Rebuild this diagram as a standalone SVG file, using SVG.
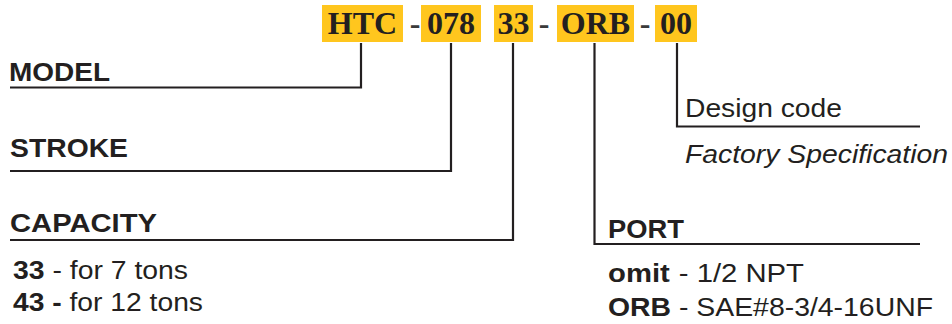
<svg xmlns="http://www.w3.org/2000/svg" width="952" height="324" viewBox="0 0 952 324">
<style>
.box{fill:#FFC61E}
.code{font-family:"Liberation Serif","Times New Roman",serif;font-weight:bold;font-size:32px;fill:#231F20}
.dash{font-family:"Liberation Serif","Times New Roman",serif;font-weight:bold;font-size:32px;fill:#3a3a3a}
.lbl{font-family:"Liberation Sans",Arial,sans-serif;font-weight:bold;font-size:26px;fill:#231F20}
.txt{font-family:"Liberation Sans",Arial,sans-serif;font-size:26px;fill:#231F20}
.b{font-weight:bold}
.ln{fill:none;stroke:#231F20;stroke-width:2.2}
</style>
<rect width="952" height="324" fill="#fff"/>
<g id="code">
<g id="code-htc"><rect class="box" x="322" y="5" width="81" height="37"/><text class="code" x="362.5" y="34" text-anchor="middle">HTC</text></g>
<text class="dash" x="415" y="34" text-anchor="middle">-</text>
<g id="code-078"><rect class="box" x="421" y="5" width="60" height="37"/><text class="code" x="451" y="34" text-anchor="middle">078</text></g>
<g id="code-33"><rect class="box" x="494" y="5" width="39" height="37"/><text class="code" x="513.5" y="34" text-anchor="middle">33</text></g>
<text class="dash" x="544" y="34" text-anchor="middle">-</text>
<g id="code-orb"><rect class="box" x="557" y="5" width="77" height="37"/><text class="code" x="595.5" y="34" text-anchor="middle">ORB</text></g>
<text class="dash" x="645" y="34" text-anchor="middle">-</text>
<g id="code-00"><rect class="box" x="655" y="5" width="42" height="37"/><text class="code" x="676" y="34" text-anchor="middle">00</text></g>
</g>
<g id="connectors">
<polyline class="ln" points="361,43 361,87.5 10,87.5"/>
<polyline class="ln" points="451,43 451,171 10,171"/>
<polyline class="ln" points="513,43 513,240 10,240"/>
<polyline class="ln" points="594.5,43 594.5,244 920,244"/>
<polyline class="ln" points="677,43 677,126.5 920,126.5"/>
</g>
<g id="model"><text class="lbl" x="9" y="81" textLength="101" lengthAdjust="spacingAndGlyphs">MODEL</text></g>
<g id="stroke"><text class="lbl" x="10" y="157" textLength="118" lengthAdjust="spacingAndGlyphs">STROKE</text></g>
<g id="capacity">
<text class="lbl" x="10" y="232" textLength="147" lengthAdjust="spacingAndGlyphs">CAPACITY</text>
<text class="txt" x="13" y="279" textLength="175" lengthAdjust="spacingAndGlyphs"><tspan class="b">33</tspan> - for 7 tons</text>
<text class="txt" x="13" y="311" textLength="190" lengthAdjust="spacingAndGlyphs"><tspan class="b">43 -</tspan> for 12 tons</text>
</g>
<g id="design">
<text class="txt" x="685" y="117" textLength="157" lengthAdjust="spacingAndGlyphs">Design code</text>
<text class="txt" x="685" y="163" font-style="italic" textLength="263" lengthAdjust="spacingAndGlyphs">Factory Specification</text>
</g>
<g id="port">
<text class="lbl" x="608" y="238" textLength="76" lengthAdjust="spacingAndGlyphs">PORT</text>
<text class="txt" x="608" y="282" textLength="196" lengthAdjust="spacingAndGlyphs"><tspan class="b">omit</tspan><tspan dx="8">- 1/2 NPT</tspan></text>
<text class="txt" x="608" y="316" textLength="325" lengthAdjust="spacingAndGlyphs"><tspan class="b">ORB</tspan> - SAE#8-3/4-16UNF</text>
</g>
</svg>
